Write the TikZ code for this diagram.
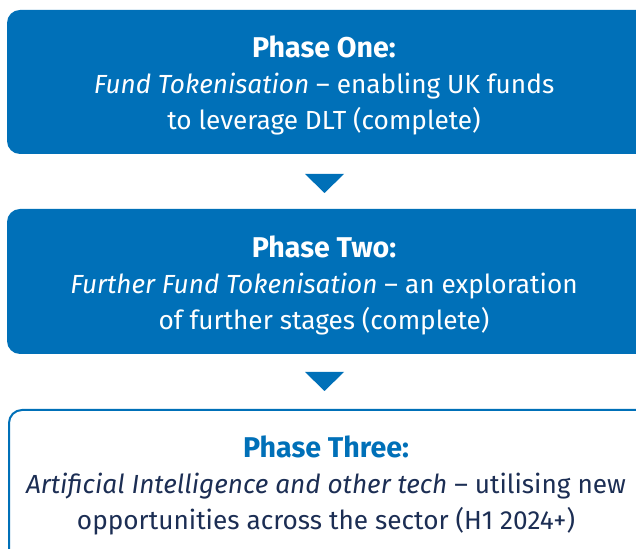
\documentclass[tikz,border=0pt]{standalone}
\usepackage{fontspec}
\setmainfont{Fira Sans}
\definecolor{fundblue}{RGB}{0,112,184}
\definecolor{navy}{RGB}{28,46,84}
\newcommand{\phasehead}[1]{{\fontsize{28.6}{36}\selectfont\textbf{#1}}}
\begin{document}
\begin{tikzpicture}[x=1pt,y=1pt,
  filledbox/.style={fill=fundblue, rounded corners=13pt},
  openbox/.style={draw=fundblue, line width=2pt, fill=white, rounded corners=13pt},
  arrowtri/.style={fill=fundblue},
  phasetext/.style={align=center, font=\fontsize{26.2}{36}\selectfont, inner sep=0pt}]
\useasboundingbox (0,0) rectangle (636,548);
\begin{scope}
\clip (0,0) rectangle (636,548);
% boxes (y_tikz = 548 - y_px)
\path[filledbox] (7,394) rectangle (652,538);
\path[filledbox] (7,194) rectangle (652,339);
\path[openbox] (9,-20) rectangle (652,138);
% triangles
\path[arrowtri] (305,374) -- (344,374) -- (324.5,355) -- cycle;
\path[arrowtri] (305,176) -- (344,176) -- (324.5,157) -- cycle;
\end{scope}
\node[phasetext, text=white] (t1) at (324,462.5)
  {\phasehead{Phase One:}\\\textit{Fund Tokenisation} – enabling UK funds\\to leverage DLT (complete)};
\node[phasetext, text=white] (t2) at (324,262.5)
  {\phasehead{Phase Two:}\\\textit{Further Fund Tokenisation} – an exploration\\of further stages (complete)};
\node[phasetext, text=navy] (t3) at (326,62.5)
  {\textcolor{fundblue}{\phasehead{Phase Three:}}\\\textit{Artificial Intelligence and other tech} – utilising new\\opportunities across the sector (H1 2024+)};
\end{tikzpicture}
\end{document}
